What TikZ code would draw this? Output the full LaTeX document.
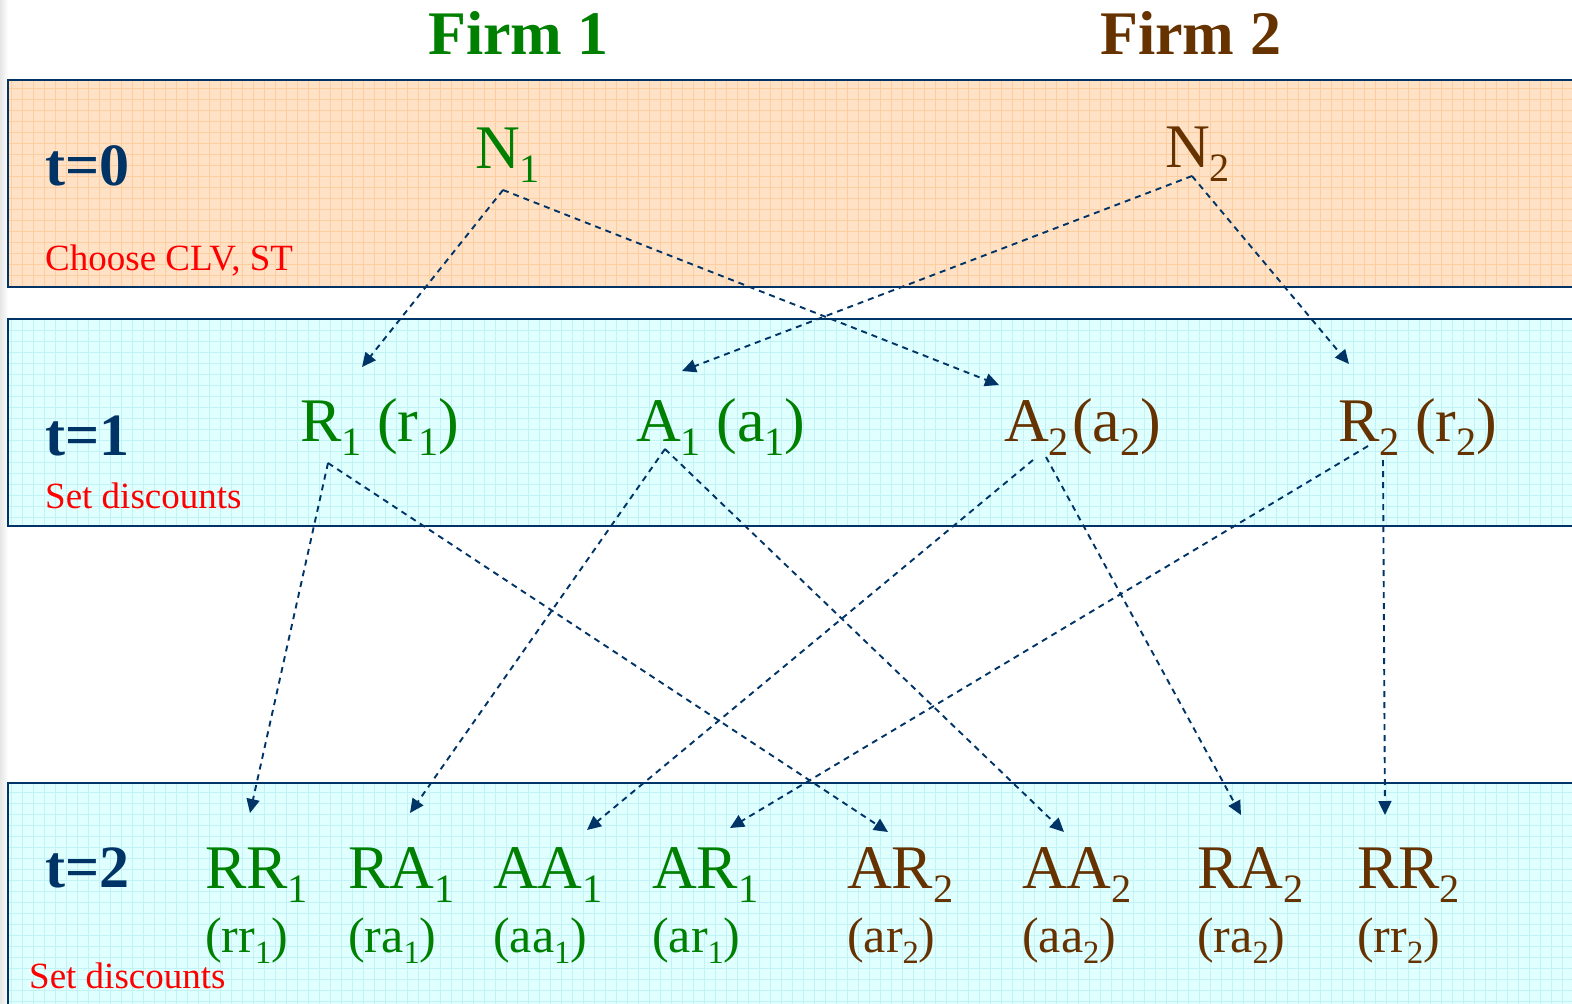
\documentclass[tikz,border=0pt]{standalone}
\usepackage{fontspec}
\setmainfont{Liberation Serif}
\usetikzlibrary{arrows.meta,positioning}
\definecolor{navyline}{RGB}{0,51,102}
\definecolor{firmgreen}{RGB}{0,128,0}
\definecolor{firmbrown}{RGB}{102,51,0}
\definecolor{peachband}{RGB}{255,226,198}
\definecolor{peachgrid}{RGB}{255,206,160}
\definecolor{cyanband}{RGB}{224,255,255}
\definecolor{cyangrid}{RGB}{192,242,246}
\newcommand{\idx}[1]{\raisebox{-0.23em}{\fontsize{\the\dimexpr 0.65em\relax}{0}\selectfont #1}}
\tikzset{
  firma/.style={
    anchor=base west,
    inner sep=0pt,
    font=\fontsize{62}{62}\selectfont\bfseries
  },
  periodo/.style={
    anchor=base west,
    inner sep=0pt,
    text=navyline,
    font=\fontsize{60}{60}\selectfont\bfseries
  },
  nota/.style={
    anchor=base west,
    inner sep=0pt,
    text=red,
    font=\fontsize{37}{37}\selectfont
  },
  jugada/.style={
    anchor=base west,
    inner sep=0pt,
    font=\fontsize{62}{62}\selectfont
  },
  pago/.style={
    anchor=base west,
    inner sep=0pt,
    font=\fontsize{50}{50}\selectfont
  },
  arrow/.style={
    -{Triangle[length=14pt,width=13pt]},
    line width=1.9pt,
    dash pattern=on 6pt off 5pt,
    navyline
  }
}

\begin{document}
\begin{tikzpicture}[x=1pt,y=-1pt]
\useasboundingbox (0,0) rectangle (1572,1004);
\clip (0,0) rectangle (1572,1004);
\shade[left color=black!10,right color=white] (0,0) rectangle (8,1004);
\foreach \ytop/\ybot/\fil/\gr in {80/287/peachband/peachgrid,319/526/cyanband/cyangrid,783/1012/cyanband/cyangrid}{
  \begin{scope}
  \clip (8,\ytop) rectangle (1572,\ybot);
  \fill[\fil] (8,\ytop) rectangle (1572,\ybot);
  \draw[\gr,line width=0.6pt,step=11pt] (8,\ytop) grid (1572,\ybot);
  \end{scope}
  \draw[navyline,line width=2.5pt] (1580,\ytop) -- (8,\ytop) -- (8,\ybot) -- (1580,\ybot);
}

\node[firma,text=firmgreen] (f1) at (428,54) {Firm 1};
\node[firma,text=firmbrown] (f2) at (1100,54) {Firm 2};

\node[periodo] (t0) at (45,185) {t=0};
\node[periodo] (t1) at (45,455) {t=1};
\node[periodo] (t2) at (45,887) {t=2};
\node[nota] (c0) at (45,270) {Choose CLV, ST};
\node[nota] (c1) at (45,508) {Set discounts};
\node[nota] (c2) at (29,988) {Set discounts};

\node[jugada,text=firmgreen] (n1) at (475,168) {N\idx{1}};
\node[jugada,text=firmbrown] (n2) at (1165,167) {N\idx{2}};

\node[jugada,text=firmgreen] (r1) at (300,441) {R\idx{1} (r\idx{1})};
\node[jugada,text=firmgreen] (a1) at (636,441) {A\idx{1} (a\idx{1})};
\node[jugada,text=firmbrown] (a2) at (1004,441) {A\idx{2}\hspace{3pt}(a\idx{2})};
\node[jugada,text=firmbrown] (r2) at (1338,441) {R\idx{2} (r\idx{2})};

\node[jugada,text=firmgreen] (rr1) at (205,888) {RR\idx{1}};
\node[jugada,text=firmgreen] (ra1) at (348,888) {RA\idx{1}};
\node[jugada,text=firmgreen] (aa1) at (493,888) {AA\idx{1}};
\node[jugada,text=firmgreen] (ar1) at (652,888) {AR\idx{1}};
\node[jugada,text=firmbrown] (ar2) at (847,888) {AR\idx{2}};
\node[jugada,text=firmbrown] (aa2) at (1022,888) {AA\idx{2}};
\node[jugada,text=firmbrown] (ra2) at (1197,888) {RA\idx{2}};
\node[jugada,text=firmbrown] (rr2) at (1357,888) {RR\idx{2}};

\node[pago,text=firmgreen] (rr1p) at ([shift={(0,64)}]rr1.base west) {(rr\idx{1})};
\node[pago,text=firmgreen] (ra1p) at ([shift={(0,64)}]ra1.base west) {(ra\idx{1})};
\node[pago,text=firmgreen] (aa1p) at ([shift={(0,64)}]aa1.base west) {(aa\idx{1})};
\node[pago,text=firmgreen] (ar1p) at ([shift={(0,64)}]ar1.base west) {(ar\idx{1})};
\node[pago,text=firmbrown] (ar2p) at ([shift={(0,64)}]ar2.base west) {(ar\idx{2})};
\node[pago,text=firmbrown] (aa2p) at ([shift={(0,64)}]aa2.base west) {(aa\idx{2})};
\node[pago,text=firmbrown] (ra2p) at ([shift={(0,64)}]ra2.base west) {(ra\idx{2})};
\node[pago,text=firmbrown] (rr2p) at ([shift={(0,64)}]rr2.base west) {(rr\idx{2})};

% t=0 -> t=1
\draw[arrow] ([shift={(28,22)}]n1.base west) -- ([shift={(62,-74)}]r1.base west);
\draw[arrow] ([shift={(28,22)}]n1.base west) -- ([shift={(-5,-56)}]a2.base west);
\draw[arrow] ([shift={(27,9)}]n2.base west) -- ([shift={(46,-70)}]a1.base west);
\draw[arrow] ([shift={(27,9)}]n2.base west) -- ([shift={(11,-77)}]r2.base west);

% t=1 -> t=2
\draw[arrow] ([shift={(28,22)}]r1.base west) -- ([shift={(45,-75)}]rr1.base west);
\draw[arrow] ([shift={(28,22)}]r1.base west) -- ([shift={(41,-56)}]ar2.base west);
\draw[arrow] ([shift={(29,8)}]a1.base west) -- ([shift={(62,-75)}]ra1.base west);
\draw[arrow] ([shift={(29,8)}]a1.base west) -- ([shift={(42,-56)}]aa2.base west);
\draw[arrow] ([shift={(29,19)}]a2.base west) -- ([shift={(94,-58)}]aa1.base west);
\draw[arrow] ([shift={(42,16)}]a2.base west) -- ([shift={(44,-73)}]ra2.base west);
\draw[arrow] ([shift={(30,5)}]r2.base west) -- ([shift={(78,-60)}]ar1.base west);
\draw[arrow] ([shift={(45,19)}]r2.base west) -- ([shift={(28,-73)}]rr2.base west);
\end{tikzpicture}
\end{document}
